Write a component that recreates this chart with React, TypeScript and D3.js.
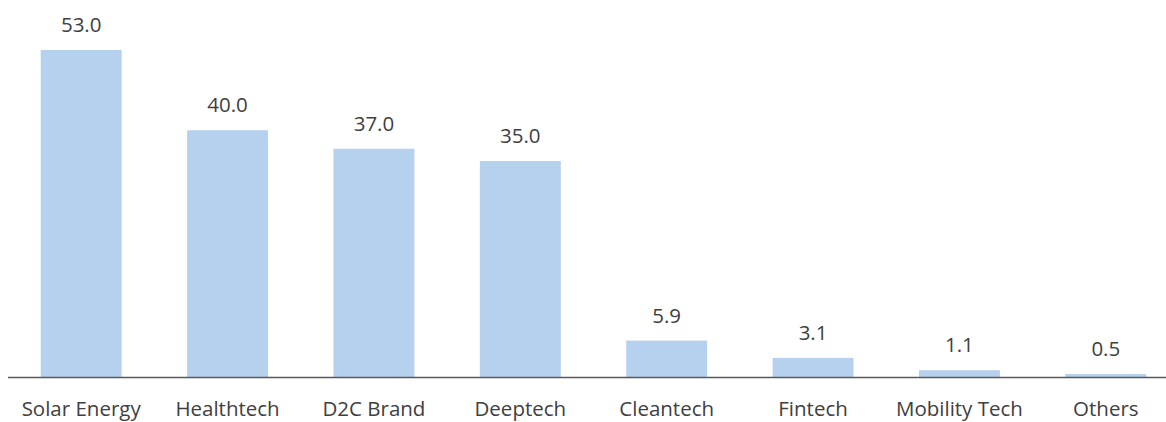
import React from 'react';
import * as d3 from 'd3';

const categories = ['Solar Energy', 'Healthtech', 'D2C Brand', 'Deeptech', 'Cleantech', 'Fintech', 'Mobility Tech', 'Others'];
const values = [53.0, 40.0, 37.0, 35.0, 5.9, 3.1, 1.1, 0.5];

const width = 1166;
const height = 422;
const baseline = 377;
const font = '"Open Sans", "Noto Sans", sans-serif';

const App = () => {
  const x = d3.scaleBand<string>()
    .domain(categories)
    .range([8, 1179])
    .paddingInner(0.447)
    .paddingOuter(0.2235);

  // 53 units -> bar top at y=50
  const y = d3.scaleLinear().domain([0, 53]).range([baseline, 50]);

  return (
    <svg width={width} height={height} style={{ position: 'absolute', left: 0, top: 0 }}>
      <rect width={width} height={height} fill="#ffffff" />
      {categories.map((c, i) => (
        <g key={c}>
          <rect
            x={x(c)}
            y={y(values[i])}
            width={x.bandwidth()}
            height={baseline - y(values[i])}
            fill="#b6d1ee"
          />
          <text
            x={(x(c) as number) + x.bandwidth() / 2}
            y={y(values[i]) - 18}
            textAnchor="middle"
            fontFamily={font}
            fontSize={20.5}
            fill="#404040"
          >
            {values[i].toFixed(1)}
          </text>
          <text
            x={(x(c) as number) + x.bandwidth() / 2}
            y={416}
            textAnchor="middle"
            fontFamily={font}
            fontSize={20.5}
            fill="#404040"
          >
            {c}
          </text>
        </g>
      ))}
      <line x1={8} x2={width} y1={baseline + 0.5} y2={baseline + 0.5} stroke="#595959" strokeWidth={1.5} />
    </svg>
  );
};

export default App;
